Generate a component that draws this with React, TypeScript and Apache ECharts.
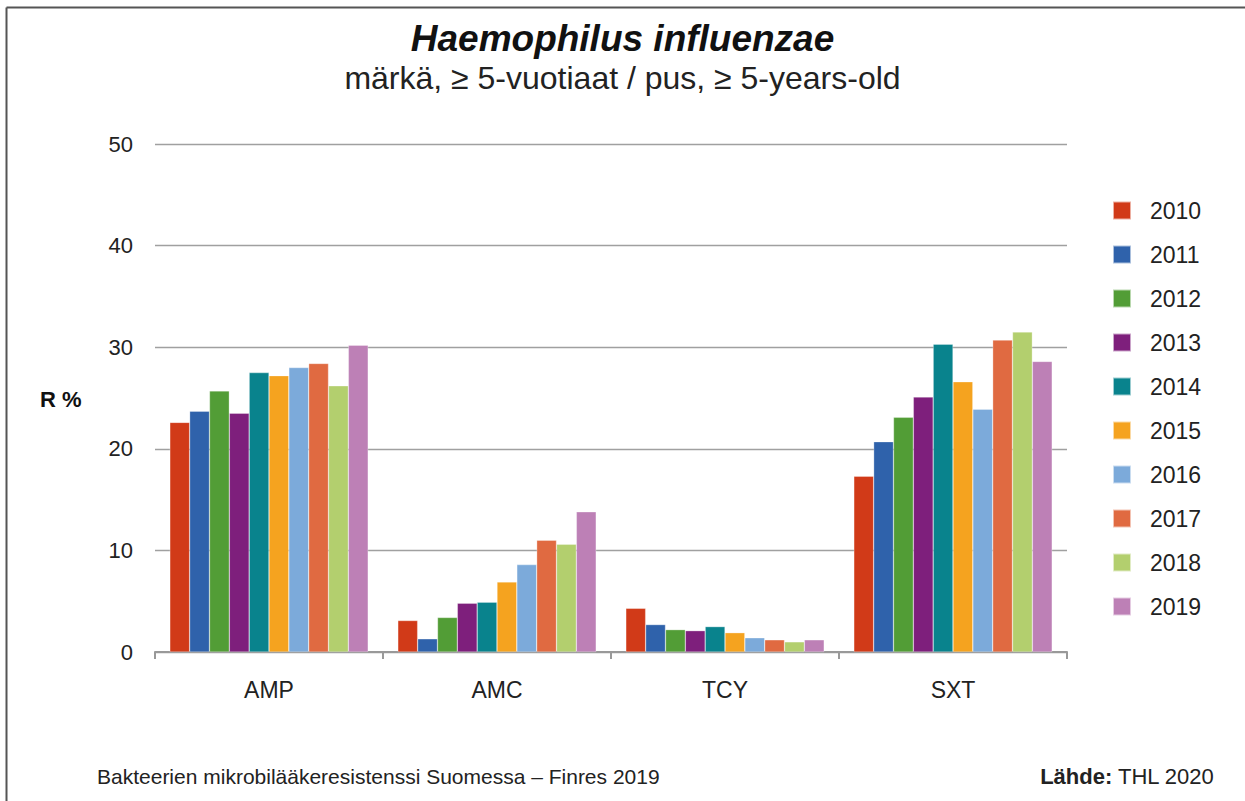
import React, { useEffect, useRef } from "react";
import * as echarts from "echarts";

const categories = ["AMP", "AMC", "TCY", "SXT"];
const years = ["2010", "2011", "2012", "2013", "2014", "2015", "2016", "2017", "2018", "2019"];
const colors = ["#D13A18", "#2F62AB", "#529D36", "#7E1F7C", "#09838D", "#F5A31F", "#7CAADA", "#E06A41", "#B3CF6E", "#BD80B6"];
const v2010 = [22.6, 3.1, 4.3, 17.3];
const v2011 = [23.7, 1.3, 2.7, 20.7];
const v2012 = [25.7, 3.4, 2.2, 23.1];
const v2013 = [23.5, 4.8, 2.1, 25.1];
const v2014 = [27.5, 4.9, 2.5, 30.3];
const v2015 = [27.2, 6.9, 1.9, 26.6];
const v2016 = [28.0, 8.6, 1.4, 23.9];
const v2017 = [28.4, 11.0, 1.2, 30.7];
const v2018 = [26.2, 10.6, 1.0, 31.5];
const v2019 = [30.2, 13.8, 1.2, 28.6];
const seriesValues = [v2010, v2011, v2012, v2013, v2014, v2015, v2016, v2017, v2018, v2019];

const FONT = "Liberation Sans, Arial, sans-serif";

export default function App() {
  const ref = useRef<HTMLDivElement>(null);
  useEffect(() => {
    const chart = echarts.init(ref.current!, null, { renderer: "svg" });
    chart.setOption({
      animation: false,
      backgroundColor: "#ffffff",
      textStyle: { fontFamily: FONT },
      title: [
        {
          text: "Haemophilus influenzae",
          left: "center",
          top: 15,
          textStyle: { fontSize: 37, fontWeight: "bold", fontStyle: "italic", color: "#111", fontFamily: FONT },
        },
        {
          text: "märkä, ≥ 5-vuotiaat / pus, ≥ 5-years-old",
          left: "center",
          top: 57,
          textStyle: { fontSize: 32, fontWeight: "normal", color: "#222", fontFamily: FONT },
        },
      ],
      legend: {
        orient: "vertical",
        left: 1112,
        top: 199,
        padding: 0,
        itemWidth: 18,
        itemHeight: 18,
        itemGap: 21,
        icon: "rect",
        data: years,
        textStyle: { fontSize: 23, color: "#222", padding: [0, 0, 0, 14], fontFamily: FONT },
      },
      grid: { left: 155, right: 178, top: 144, bottom: 149, containLabel: false },
      xAxis: {
        type: "category",
        data: categories,
        axisLine: { lineStyle: { color: "#999", width: 2 } },
        axisTick: { show: true, length: 7, interval: 0, lineStyle: { color: "#999", width: 2 } },
        axisLabel: { fontSize: 23, color: "#222", margin: 26, fontFamily: FONT },
      },
      yAxis: {
        type: "value",
        min: 0,
        max: 50,
        interval: 10,
        axisLine: { show: false },
        axisTick: { show: false },
        axisLabel: { fontSize: 22, color: "#222", margin: 22, fontFamily: FONT },
        splitLine: { lineStyle: { color: "#a0a0a0", width: 1.3 } },
      },
      series: years.map((y, i) => ({
        name: y,
        type: "bar",
        data: seriesValues[i],
        barGap: "0%",
        barCategoryGap: "13%",
        itemStyle: { color: colors[i], borderColor: "rgba(255,255,255,0.6)", borderWidth: 0.5 },
      })),
      graphic: [
        { type: "line", shape: { x1: 6.5, y1: 7.5, x2: 1245, y2: 7.5 }, style: { stroke: "#555", lineWidth: 2 } },
        { type: "line", shape: { x1: 6.5, y1: 7.5, x2: 6.5, y2: 801 }, style: { stroke: "#555", lineWidth: 2 } },
        {
          type: "text",
          left: 40,
          top: 388,
          style: { text: "R %", font: `bold 22px ${FONT}`, fill: "#111" },
        },
        {
          type: "text",
          left: 97,
          top: 766,
          style: { text: "Bakteerien mikrobilääkeresistenssi Suomessa – Finres 2019", font: `21px ${FONT}`, fill: "#222" },
        },
        {
          type: "text",
          right: 30,
          top: 765,
          style: {
            text: "{b|Lähde:} THL 2020",
            font: `22px ${FONT}`,
            fill: "#222",
            rich: { b: { fontWeight: "bold", fontSize: 22, fontFamily: FONT, fill: "#222" } },
          },
        },
      ],
    });
    return () => chart.dispose();
  }, []);
  return <div ref={ref} style={{ position: "fixed", left: 0, top: 0, width: 1245, height: 801 }} />;
}
